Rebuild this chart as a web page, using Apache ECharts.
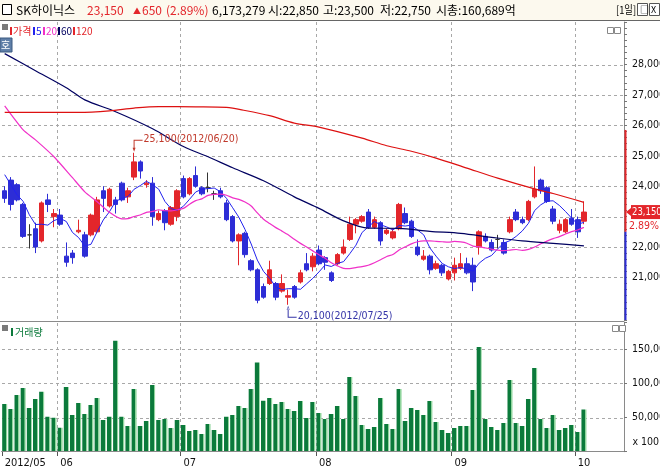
<!DOCTYPE html>
<html><head><meta charset="utf-8">
<script src="https://cdn.jsdelivr.net/npm/echarts@6.0.0/dist/echarts.min.js"></script>
<style>html,body{margin:0;padding:0;background:#fff;overflow:hidden}#c{width:660px;height:471px}</style>
</head><body><div id="c"></div>
<script>
// ---------------- data ----------------
const daysMay=[18,21,22,23,24,25,29,30,31];
const daysJun=[1,4,5,7,8,11,12,13,14,15,18,19,20,21,22,25,26,27,28,29];
const daysJul=[2,3,4,5,6,9,10,11,12,13,16,17,18,19,20,23,24,25,26,27,30,31];
const daysAug=[1,2,3,6,7,8,9,10,13,14,16,17,20,21,22,23,24,27,28,29,30,31];
const daysSep=[3,4,5,6,7,10,11,12,13,14,17,18,19,20,21,24,25,26,27,28];
const daysOct=[2,4];
const monthCodes=['05','06','07','08','09','10'];
const axisMonthLabels=['2012/05','06','07','08','09','10'];

const openP=[23850,24200,24050,23400,22400,22600,22200,23550,23000,23050,
21700,21800,22500,22400,22400,22500,23850,23350,23550,24100,
23650,24300,24800,24050,24100,22900,23200,22750,23000,24250,
23750,24350,23950,23950,23750,23850,23450,23000,22200,22450,
21550,21250,20700,20800,20800,20550,20350,20700,20850,21450,
21350,21900,21650,21150,21450,21800,22250,22750,22850,23150,
22650,22800,22450,22300,22600,23100,22850,22000,21600,21700,
21300,21400,20950,21150,21300,21450,21400,22000,22350,22150,
22250,22150,22500,23150,22900,22900,23650,24200,23950,23250,
22550,22500,22950,22900,22850];
const closeP=[23600,23400,23550,22350,22400,22000,23450,23400,23100,22750,
21500,21650,22550,21700,23050,23550,23600,23900,23400,23550,
23850,24800,24500,24100,23000,23100,22800,23300,23850,23650,
24250,24000,23750,23950,23750,23650,22900,22200,22400,21750,
21250,20250,20350,21250,20350,20800,20400,20350,21150,21250,
21700,21450,21500,20900,21750,22000,22750,22900,23000,22650,
22900,22200,22550,22500,23400,22800,22350,21750,21700,21250,
21450,21150,21200,21400,21450,21150,20850,22500,22200,21900,
22250,21800,22900,22900,22800,23500,23900,23850,23500,22850,
22750,22900,22750,22500,23150];
const lowP=[23450,23200,23500,22300,21950,21800,22150,23150,22650,22700,
21350,21450,22450,21650,22350,22450,23150,23300,23100,23500,
23450,24200,24250,23950,22700,22850,22550,22700,22850,23600,
23700,23950,23700,23800,23550,23600,22850,22150,21400,21650,
21200,20150,20300,20750,20250,20500,20100,20300,20800,21200,
21200,21400,21250,20850,21400,21750,22200,22450,22800,22600,
22600,22050,22400,22250,22550,22750,22300,21700,21550,21100,
21250,21050,20900,20900,21250,21100,20550,21750,22150,21850,
21950,21750,22450,22850,22750,22850,23600,23750,23450,22750,
22450,22450,22700,22300,22750];
const highP=[24000,24300,24100,23450,22750,22800,23500,23750,23250,23250,
22150,21900,22900,22500,23100,23650,24000,23950,23650,24150,
23950,25100,24850,24200,24300,23200,23250,23350,23900,24350,
24300,24650,24000,24450,23850,23950,23550,23050,22450,22500,
21600,21300,20800,21550,20850,21100,20600,20750,21250,21800,
21800,22050,21700,21200,21800,22250,23000,22950,23050,23250,
23000,22850,22600,22600,23450,23300,22900,22250,21900,21750,
21550,21450,21250,21650,21800,21650,21650,22550,22450,22250,
22400,22250,23000,23250,23000,23550,24650,24250,24000,23350,
22900,22950,23250,23000,23500];
const volume=[69900,62600,83100,93400,64100,77300,88000,51300,49900,35200,
94900,53800,71400,55300,68500,78700,46500,51300,162700,51300,
37700,91900,37700,45000,97800,46500,47900,34700,46500,39100,
30300,31800,25900,40600,31800,25900,51300,53800,67000,64100,
91900,130500,74800,78700,69900,72900,62600,59700,74300,49400,
72900,56700,47900,55300,67000,47900,109500,81700,39100,33300,
36200,78700,40600,33300,91900,45000,64100,61100,53800,74300,
43500,31800,27400,34700,37700,37700,90400,153500,47900,36200,
31800,42100,105100,42100,37700,77300,122700,47900,34700,53800,
31800,34700,39100,28900,61733];
const ma5Head=[24380,24050,23720,23500];
const ma20Head=[[0,26645],[3,25855],[5,25525],[8,24970],[11,24280],[13,23815],[15,23490],[17,23140]];
const ma60Read=[[0,28360],[5,27800],[10,27240],[13,26840],[18,26450],[24,25890],[29,25305],[33,24970],[37,24605],[42,24180],[47,23650],[51,23270],[55,22860],[59,22620],[64,22615],[69,22515],[74,22450],[79,22320],[84,22200],[89,22120],[94,22040]];
const ma120Read=[[0,26430],[12,26430],[17,26480],[21,26570],[25,26620],[31,26610],[36,26590],[39,26490],[43,26320],[47,26075],[51,25945],[58,25580],[62,25330],[66,25150],[70,24925],[75,24595],[80,24265],[86,23910],[89,23760],[94,23470]];
const priceGridValues=[21000,22000,23000,24000,25000,26000,27000,28000];
const priceLabelValues=[21000,22000,24000,25000,26000,27000,28000];
const volLabelValues=[50000,100000,150000];
const stockName='SK하이닉스';
const dayChange=650, dayChangePct='2.89%', shareVolume=6173279, marketCap='160,689억';
const limitRate=0.15;

// ---------------- build ----------------
const N=closeP.length, PAD=6;
const dates=[], monthStartIdx={}, monthStarts=[];
[daysMay,daysJun,daysJul,daysAug,daysSep,daysOct].forEach((lst,m)=>{
  monthStartIdx[dates.length]=axisMonthLabels[m]; monthStarts.push(dates.length);
  lst.forEach(d=>dates.push('2012/'+monthCodes[m]+'/'+(d<10?'0':'')+d));
});
const cats=dates.concat(Array.from({length:PAD},(_,k)=>'~'+k));
const fmt=v=>String(Math.round(v)).replace(/\B(?=(\d{3})+(?!\d))/g,',');
const candles=openP.map((o,i)=>{
  const v=[o,closeP[i],lowP[i],highP[i]];
  return o===closeP[i]?{value:v,itemStyle:{color:'#333',color0:'#333',borderColor:'#333',borderColor0:'#333',borderColorDoji:'#333'}}:v;
});
function sma(n){const out=[];for(let i=n-1;i<N;i++){let s=0;for(let k=i-n+1;k<=i;k++)s+=closeP[k];out.push([i,Math.round(s/n)]);}return out;}
const ma5=ma5Head.map((v,i)=>[i,v]).concat(sma(5));
const ma20=ma20Head.concat(sma(20));
let hiIdx=0,loIdx=0;highP.forEach((v,i)=>{if(v>highP[hiIdx])hiIdx=i;});lowP.forEach((v,i)=>{if(v<lowP[loIdx])loIdx=i;});

const NARROW="'Liberation Sans Narrow','DejaVu Sans Condensed','Liberation Sans',sans-serif";
const KR="'Noto Sans CJK KR','Noto Sans',sans-serif";
const RED='#e3262b', BLUE='#2d2dd6', GRID='#a8a8a8';
const monthInterval=(i)=>monthStartIdx[i]!==undefined;

const chart=echarts.init(document.getElementById('c'),null,{renderer:'canvas'});
const gridL=1.6, gridR=36;
const volColor={type:'linear',x:0,y:0,x2:1,y2:0,colorStops:[{offset:0,color:'#0b7a3b'},{offset:0.76,color:'#0b7a3b'},{offset:0.77,color:'#8fd49c'},{offset:1,color:'#8fd49c'}]};
chart.setOption({
  animation:false,
  backgroundColor:'#ffffff',
  grid:[{left:gridL,right:gridR,top:22,height:298,outerBoundsMode:'none',containLabel:false},
        {left:gridL,right:gridR,top:322,height:129.7,outerBoundsMode:'none',containLabel:false}],
  xAxis:[
    {type:'category',gridIndex:0,data:cats,boundaryGap:true,axisLine:{show:false},axisTick:{show:false},axisLabel:{show:false},splitLine:{show:false}},
    {type:'category',gridIndex:1,data:cats,boundaryGap:true,z:70,axisLine:{show:true,lineStyle:{color:'#8a8a8a'}},
     axisTick:{show:false},
     axisLabel:{show:true,interval:monthInterval,formatter:(v,i)=>monthStartIdx[i]||'',align:'left',margin:6,color:'#111',fontSize:11,fontFamily:NARROW},
     splitLine:{show:false}}
  ],
  yAxis:[
    {type:'value',gridIndex:0,position:'right',min:19600,max:29400,interval:200,z:70,
     axisLine:{show:true,lineStyle:{color:'#8a8a8a'}},axisTick:{show:true,length:3,lineStyle:{color:'#777'}},
     axisLabel:{margin:8,color:'#111',fontSize:10.5,fontFamily:NARROW,formatter:v=>priceLabelValues.includes(v)?fmt(v):''},
     splitLine:{show:false}},
    {type:'value',gridIndex:1,position:'right',min:0,max:190000,interval:50000,z:70,
     axisLine:{show:true,lineStyle:{color:'#8a8a8a'}},axisTick:{show:true,length:3,lineStyle:{color:'#777'}},
     axisLabel:{margin:8,color:'#111',fontSize:10.5,fontFamily:NARROW,formatter:v=>volLabelValues.includes(v)?fmt(v):''},
     splitLine:{show:false}}
  ],
  series:[
    {type:'candlestick',xAxisIndex:0,yAxisIndex:0,data:candles,barWidth:5,z:60,
     itemStyle:{color:RED,color0:BLUE,borderColor:RED,borderColor0:BLUE,borderWidth:1,borderColorDoji:'#333'},
     markPoint:{silent:true,z:66,data:[
       {coord:[cats[hiIdx],highP[hiIdx]],symbol:'path://M1,0h9v1h-9zM1,0h1v10h-1zM0,8h3l-1.5,4z',symbolSize:[10,12],symbolKeepAspect:false,symbolOffset:[3.5,-7],
        itemStyle:{color:'#c0392b'},label:{show:true,position:[11,-6],formatter:fmt(highP[hiIdx])+'('+dates[hiIdx]+')',color:'#c0392b',fontSize:10.5,fontFamily:NARROW}},
       {coord:[cats[loIdx],lowP[loIdx]],symbol:'path://M0,4h3l-1.5,-4zM1,2h1v10h-1zM1,11h9v1h-9z',symbolSize:[10,12],symbolKeepAspect:false,symbolOffset:[3.5,7],
        itemStyle:{color:'#3535a8'},label:{show:true,position:[11,5],formatter:fmt(lowP[loIdx])+'('+dates[loIdx]+')',color:'#3535a8',fontSize:10.5,fontFamily:NARROW}}
     ]}},
    {type:'line',name:'5',xAxisIndex:0,yAxisIndex:0,data:ma5,symbol:'none',lineStyle:{color:'#2222ee',width:1},z:62},
    {type:'line',name:'20',xAxisIndex:0,yAxisIndex:0,data:ma20,symbol:'none',smooth:0.2,lineStyle:{color:'#f030c8',width:1.2},z:62},
    {type:'line',name:'60',xAxisIndex:0,yAxisIndex:0,data:ma60Read,symbol:'none',smooth:0.3,lineStyle:{color:'#000060',width:1.2},z:62},
    {type:'line',name:'120',xAxisIndex:0,yAxisIndex:0,data:ma120Read,symbol:'none',smooth:0.3,lineStyle:{color:'#dd1111',width:1.2},z:62},
    {type:'bar',name:'거래량',xAxisIndex:1,yAxisIndex:1,data:volume,barWidth:5,z:60,itemStyle:{color:volColor}}
  ]
});

// ---------- decorations (header, legends, grid, price tag) ----------
const yOf=v=>chart.convertToPixel({yAxisIndex:0},v);
const yVol=v=>chart.convertToPixel({yAxisIndex:1},v);
const xOf=i=>chart.convertToPixel({xAxisIndex:0},cats[i]);
const band=xOf(1)-xOf(0);
const last=N-1, prevClose=closeP[N-2];
const yPrice=yOf(closeP[last]);
const yPrev=yOf(prevClose);
const yUp=yOf(Math.floor(prevClose*(1+limitRate)/50)*50);
const yDn=Math.min(320,yOf(Math.ceil(prevClose*(1-limitRate)/50)*50));
const tfont=(s)=>s+'px '+KR;
const txt=(x,y,t,fill,size,extra)=>Object.assign({type:'text',x:x,y:y,silent:true,z:100,style:{text:t,fill:fill,font:tfont(size||12),verticalAlign:'middle'}},extra||{});
const g=[];
// dashed grid drawn as short solid segments, beneath the series
const hDash=(y,x1,x2)=>{for(let x=x1;x<x2;x+=6)g.push({type:'rect',z:50,silent:true,shape:{x:x,y:y,width:Math.min(3,x2-x),height:1},style:{fill:GRID}});};
const vDash=(x,y1,y2)=>{for(let y=y1;y<y2;y+=6)g.push({type:'rect',z:50,silent:true,shape:{x:x,y:y,width:1,height:Math.min(3,y2-y)},style:{fill:GRID}});};
monthStarts.forEach(idx=>{
  const x=Math.round(xOf(idx)-band/2);
  if(idx>0){ vDash(x,22,320); vDash(x,323,451); }
  g.push({type:'rect',silent:true,z:80,shape:{x:x,y:452,width:1,height:4},style:{fill:'#555'}});
});
priceGridValues.forEach(v=>hDash(Math.round(yOf(v)),2,624));
volLabelValues.forEach(v=>hDash(Math.round(yVol(v)),2,624));
g.push(
  {type:'rect',shape:{x:0,y:0,width:660,height:20},style:{fill:'#fcf9ee'},z:90},
  {type:'rect',shape:{x:0,y:20,width:660,height:1},style:{fill:'#666'},z:91},
  {type:'rect',shape:{x:2.5,y:4.5,width:9,height:10},style:{fill:'#fff',stroke:'#000',lineWidth:1},z:91},
  txt(16,10,stockName,'#000',12),
  txt(87,10,fmt(closeP[last]),RED,12),
  txt(133,10.5,'▲',RED,8),
  txt(142,10,fmt(dayChange),RED,12),
  txt(166,10,'('+dayChangePct+')',RED,12),
  txt(212,10,fmt(shareVolume),'#000',12),
  txt(268,10,'시:'+fmt(openP[last]),'#000',12),
  txt(323,10,'고:'+fmt(highP[last]),'#000',12),
  txt(380,10,'저:'+fmt(lowP[last]),'#000',12),
  txt(436,10,'시총:'+marketCap,'#000',12),
  txt(616,10,'[1일]','#000',11,{scaleX:0.85}),
  {type:'rect',shape:{x:637.5,y:3.5,width:10,height:12},style:{fill:'#fff',stroke:'#555'},z:91},
  {type:'rect',shape:{x:649.5,y:3.5,width:10,height:12},style:{fill:'#fff',stroke:'#555'},z:91},
  txt(640,10,'□','#000',9),
  txt(651,10,'X','#000',9),
  // price panel legend
  {type:'rect',shape:{x:2,y:24,width:6,height:6},style:{fill:'#7a7a7a'},z:91},
  {type:'rect',shape:{x:10,y:27,width:2,height:8},style:{fill:RED},z:91},
  txt(13,31,'가격',RED,10),
  {type:'rect',shape:{x:33,y:27,width:2,height:8},style:{fill:'#2222ee'},z:91},
  txt(36,31,'5','#2222ee',10),
  {type:'rect',shape:{x:43,y:27,width:2,height:8},style:{fill:'#f030c8'},z:91},
  txt(46,31,'20','#f030c8',10),
  {type:'rect',shape:{x:58,y:27,width:2,height:8},style:{fill:'#000060'},z:91},
  txt(61,31,'60','#000060',10),
  {type:'rect',shape:{x:73,y:27,width:2,height:8},style:{fill:RED},z:91},
  txt(76,31,'120',RED,10),
  {type:'rect',shape:{x:0,y:38,width:12,height:14},style:{fill:'#5f7fa8',stroke:'#3c5a80'},z:91},
  txt(1,45,'호','#fff',10),
  {type:'rect',shape:{x:607.5,y:27.5,width:6,height:6},style:{fill:'#fff',stroke:'#888'},z:91},
  {type:'rect',shape:{x:614.5,y:27.5,width:6,height:6},style:{fill:'#fff',stroke:'#888'},z:91},
  // volume legend
  {type:'rect',shape:{x:0,y:321,width:624,height:1},style:{fill:'#8a8a8a'},z:91},
  {type:'rect',shape:{x:2,y:325,width:6,height:6},style:{fill:'#7a7a7a'},z:91},
  {type:'rect',shape:{x:11,y:328,width:2,height:8},style:{fill:'#0c7a3c'},z:91},
  txt(15,332,'거래량','#0c7a3c',10),
  {type:'rect',shape:{x:612.5,y:325.5,width:6,height:6},style:{fill:'#fff',stroke:'#888'},z:91},
  {type:'rect',shape:{x:619.5,y:325.5,width:6,height:6},style:{fill:'#fff',stroke:'#888'},z:91},
  {type:'text',x:659,y:442,z:100,silent:true,style:{text:'x 100',fill:'#111',font:'10.5px '+NARROW,verticalAlign:'middle',align:'right'}},
  // limit bars on price axis
  {type:'rect',shape:{x:624.5,y:yUp,width:2,height:yPrev-yUp},style:{fill:RED},z:92},
  {type:'rect',shape:{x:624.5,y:yPrev,width:2,height:yDn-yPrev},style:{fill:BLUE},z:92},
  // current price tag
  {type:'polygon',shape:{points:[[626,yPrice],[631,yPrice-4],[631,yPrice+4]]},style:{fill:RED},z:93},
  {type:'rect',shape:{x:631,y:yPrice-7,width:29,height:14},style:{fill:RED},z:93},
  {type:'text',x:632,y:yPrice,z:94,silent:true,scaleX:0.9,style:{text:fmt(closeP[last]),fill:'#fff',font:'10.5px '+NARROW,verticalAlign:'middle'}},
  {type:'text',x:659,y:yPrice+14,z:94,silent:true,style:{text:dayChangePct,fill:RED,font:'10.5px '+NARROW,verticalAlign:'middle',align:'right'}}
);
chart.setOption({graphic:g});
</script></body></html>
